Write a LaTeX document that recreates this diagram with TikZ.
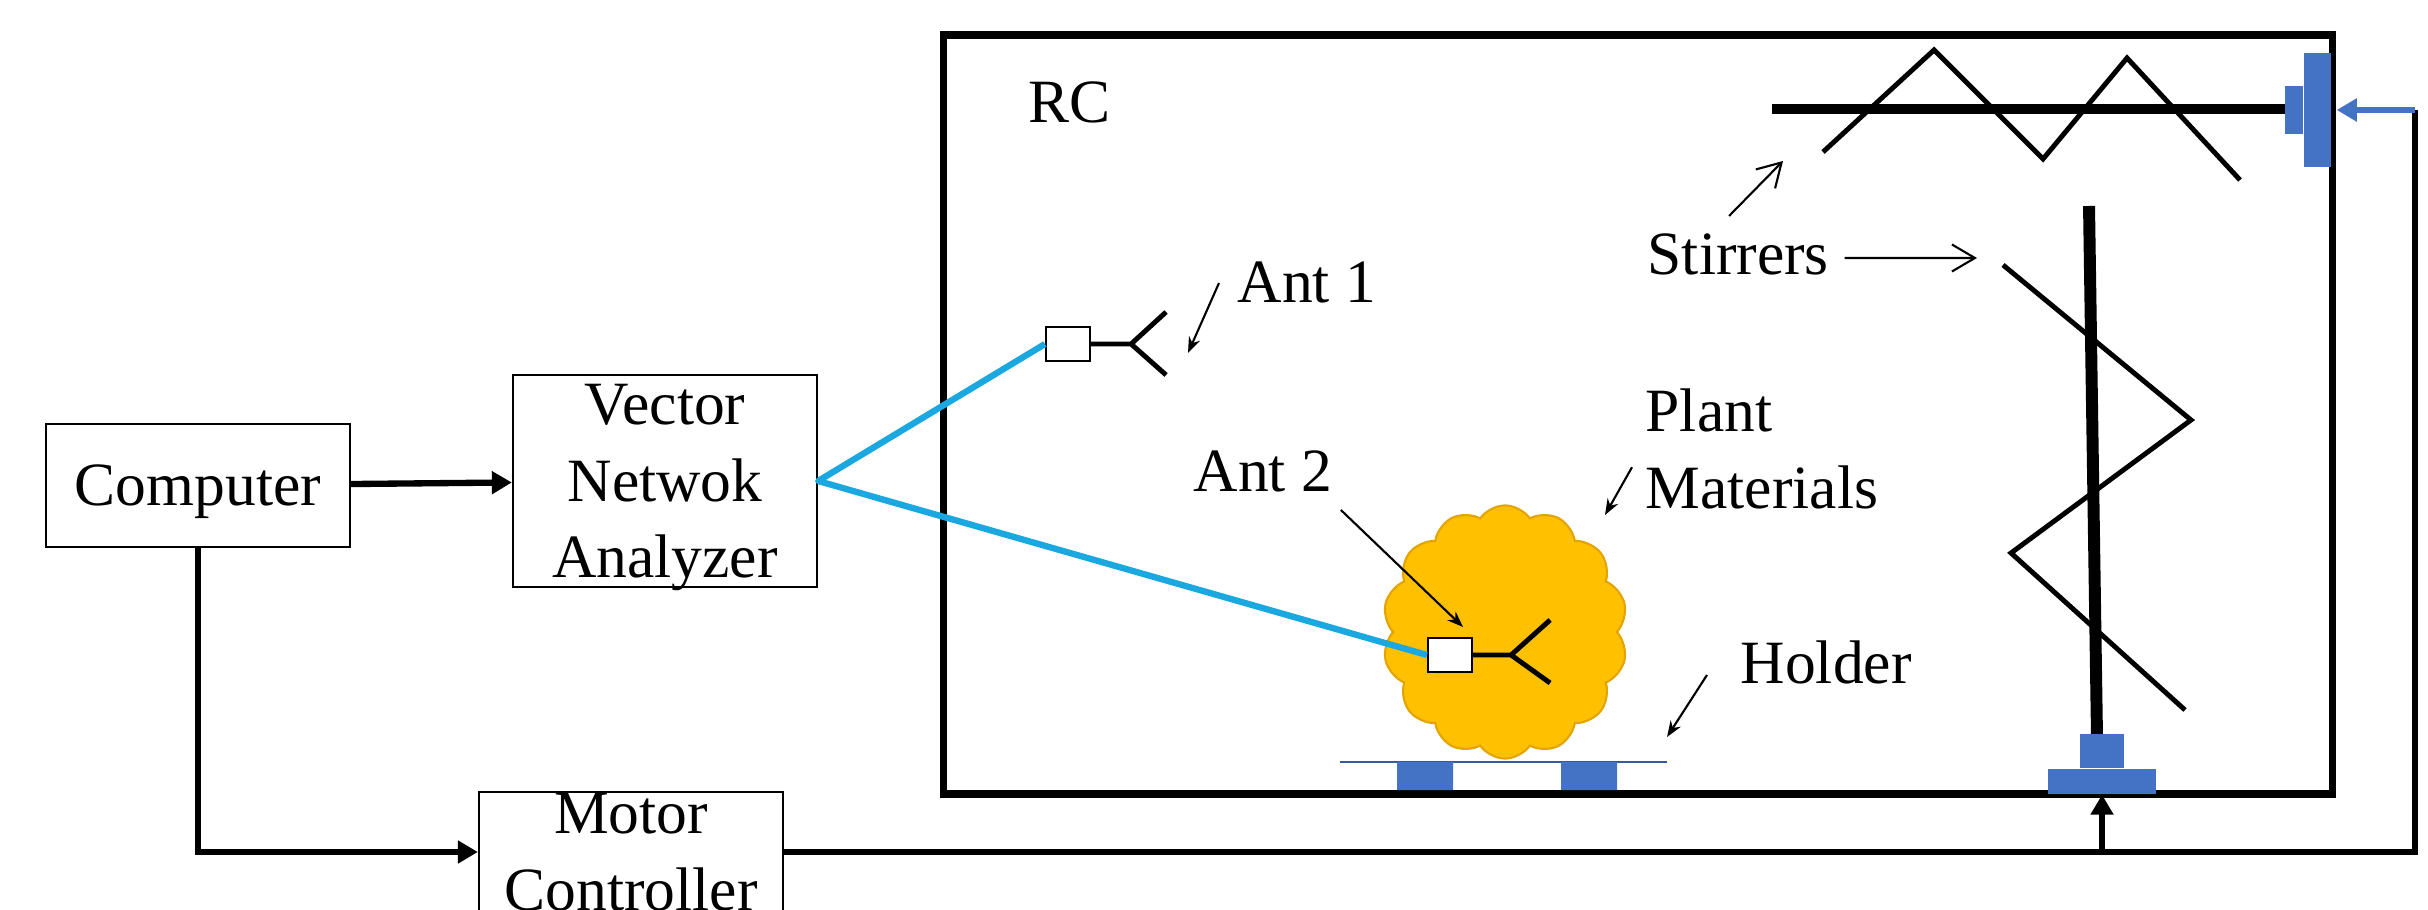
\documentclass[tikz,border=0pt]{standalone}
\usepackage{fontspec}
\setmainfont{Liberation Serif}
\usetikzlibrary{arrows.meta,shapes.symbols}

\definecolor{cablecyan}{RGB}{27,168,224}
\definecolor{motorblue}{RGB}{68,114,196}
\definecolor{plantgold}{RGB}{255,192,0}
\definecolor{plantedge}{RGB}{228,164,0}

\newcommand{\diagfont}{\fontsize{17.5}{21.8}\selectfont}

\tikzset{
  box/.style={draw, line width=0.6pt, inner sep=0pt, text depth=0pt, align=center,
    font=\diagfont, minimum width=3.04cm},
  lbl/.style={inner sep=0pt, font=\diagfont, anchor=base west},
  wire/.style={line width=1.8pt},
  cable/.style={cablecyan, line width=1.8pt, line join=round},
  callout/.style={line width=0.6pt, -{Stealth[length=0.16cm,width=0.12cm]}},
  pointer/.style={line width=0.6pt, -{Straight Barb[length=0.23cm,width=0.27cm]}},
  motor/.style={fill=motorblue, inner sep=0pt},
  antbox/.style={draw, fill=white, line width=0.6pt, inner sep=0pt,
    minimum width=0.44cm, minimum height=0.34cm},
  paddle/.style={line width=1.4pt},
}

\begin{document}
\begin{tikzpicture}[x=0.01cm, y=-0.01cm, >={Triangle[length=0.2cm,width=0.22cm]}]
\clip (0,0) rectangle (2428,910);

% instruments
\node[box, minimum height=1.23cm] (computer) at (198,485.5) {Computer};
\node[box, minimum height=2.12cm] (vna) at (665,481) {Vector\\Netwok\\Analyzer};
\node[box, minimum height=1.2cm, text depth=-0.08cm] (motor) at (631,852) {Motor\\Controller};

% chamber
\draw[line width=2pt] (943,35) rectangle (2332,794);
\node[lbl] (rc) at (1028,123) {RC};

% stirrers
\draw[line width=2.8pt] (1772,109) -- (2290,109);
\draw[paddle] (1823,152) -- (1934,50) -- (2043,159) -- (2127,58) -- (2240,180);
\draw[line width=3.4pt] (2089,206) -- (2097,738);
\draw[paddle] (2003,265) -- (2191,420) -- (2011,553) -- (2185,710);
\node[motor, minimum width=0.27cm, minimum height=1.13cm] (topmotor) at (2317.5,110) {};
\node[motor, minimum width=0.18cm, minimum height=0.48cm, anchor=east] at (topmotor.west) {};
\node[motor, minimum width=1.08cm, minimum height=0.25cm] (botbase) at (2102,781.5) {};
\node[motor, minimum width=0.44cm, minimum height=0.34cm, anchor=south] at (botbase.north) {};

% holder and plant
\draw[motorblue!80!black, line width=0.5pt] (1340,762) -- (1667,762);
\fill[motorblue] (1397,762) rectangle (1453,790) (1561,762) rectangle (1617,790);
\node[cloud, cloud puffs=14, cloud puff arc=110, cloud ignores aspect, fill=plantgold,
  draw=plantedge, line width=0.6pt, minimum width=2.45cm, minimum height=2.53cm] (plant) at (1505,632) {};

% antennas
\node[antbox] (ant1box) at (1068,344) {};
\draw[line width=1.4pt] (ant1box.east) -- ++(40,0) coordinate (ant1feed)
  -- ++(35,-32) (ant1feed) -- ++(35,31);
\node[antbox] (ant2box) at (1450,655) {};
\draw[line width=1.4pt] (ant2box.east) -- ++(38,0) coordinate (ant2feed)
  -- ++(39,-35) (ant2feed) -- ++(39,28);

% cables
\draw[cable] (ant1box.west) -- (vna.east) -- (ant2box.west);

% control lines
\draw[wire,->] (computer) -- (vna);
\draw[wire,->] (computer.south) |- (motor.west);
\coordinate (turn) at (2415,852);
\coordinate (corner) at (2415,110);
\draw[wire] (motor.east) -- (turn) -- (corner);
\draw[wire,->] (botbase.south |- turn) -- (botbase.south);
\draw[wire, motorblue, ->, shorten >=0.05cm] (corner) -- (topmotor.east);

% labels
\coordinate (ant1tip) at (1188,353);
\coordinate (ant2tip) at (1463,627);
\coordinate (hstir) at (1783,161);
\coordinate (vstir) at (1977,258);
\coordinate (planttip) at (1605,515);
\coordinate (holdertip) at (1667,737);

\node[lbl] (ant1lbl) at (1237,303) {Ant 1};
\draw[callout] ([xshift=-0.18cm,yshift=0.2cm]ant1lbl.base west) -- (ant1tip);
\node[lbl] (ant2lbl) at (1193,492) {Ant 2};
\draw[callout] ([xshift=0.08cm,yshift=-0.18cm]ant2lbl.base east) -- (ant2tip);
\node[lbl] (stirlbl) at (1647,275) {Stirrers};
\draw[pointer] ([xshift=0.82cm,yshift=0.59cm]stirlbl.base west) -- (hstir);
\draw[pointer] ([xshift=0.15cm,yshift=0.17cm]stirlbl.base east) -- (vstir);
\node[lbl, align=left, anchor=north west] (plantlbl) at (1645,388) {Plant\\Materials};
\draw[callout] ([xshift=-0.13cm,yshift=-0.185cm]plantlbl.west) -- (planttip);
\node[lbl] (holderlbl) at (1740,683) {Holder};
\draw[callout] ([xshift=-0.33cm,yshift=0.08cm]holderlbl.base west) -- (holdertip);
\end{tikzpicture}
\end{document}
